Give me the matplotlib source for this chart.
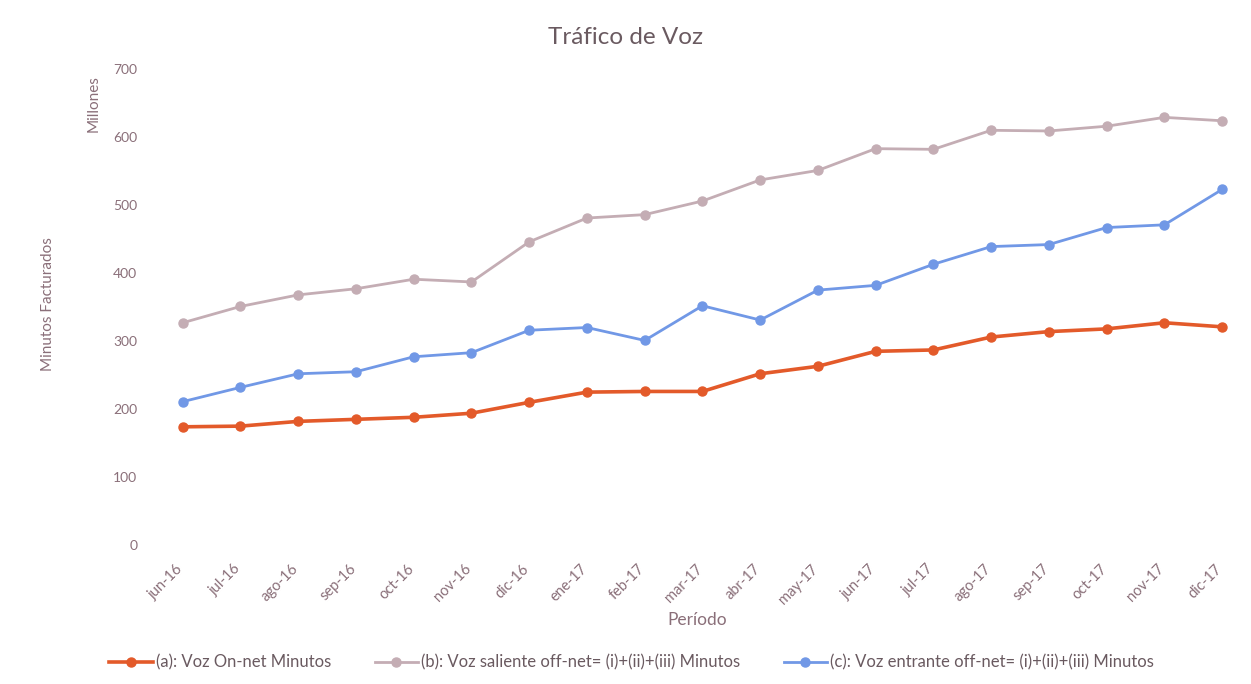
import matplotlib
matplotlib.use("Agg")
import matplotlib.pyplot as plt
import matplotlib.transforms as mtransforms

periods = ["jun-16", "jul-16", "ago-16", "sep-16", "oct-16", "nov-16", "dic-16",
           "ene-17", "feb-17", "mar-17", "abr-17", "may-17", "jun-17", "jul-17",
           "ago-17", "sep-17", "oct-17", "nov-17", "dic-17"]
voz_on_net = [174, 175, 182, 185, 188, 194, 210, 225, 226, 226, 252, 263,
              285, 287, 306, 314, 318, 327, 321]
voz_saliente = [327, 351, 368, 377, 391, 387, 446, 481, 486, 506, 537, 551,
                583, 582, 610, 609, 616, 629, 624]
voz_entrante = [211, 232, 252, 255, 277, 283, 316, 320, 301, 352, 331, 375,
                382, 413, 439, 442, 467, 471, 523]
series_labels = ["(a): Voz On-net Minutos",
                 "(b): Voz saliente off-net= (i)+(ii)+(iii) Minutos",
                 "(c): Voz entrante off-net= (i)+(ii)+(iii) Minutos"]
yticks = [0, 100, 200, 300, 400, 500, 600, 700]

plt.rcParams['font.family'] = ['Lato', 'DejaVu Sans']
txt = '#8a6f79'

fig = plt.figure(figsize=(12.51, 6.84), dpi=100)
ax = fig.add_axes([0.123, 0.203, 0.877, 0.696])

x = list(range(len(periods)))
colors = ['#e35a2a', '#c4adb4', '#7198e6']
for vals, c, lab in zip([voz_on_net, voz_saliente, voz_entrante], colors, series_labels):
    lw = 2.6 if c == '#e35a2a' else 2.0
    ax.plot(x, vals, color=c, lw=lw, marker='o', ms=6.5, label=lab)

ax.set_xlim(-0.5, len(periods) - 0.5)
ax.set_ylim(0, 700)
ax.set_yticks(yticks)
ax.set_yticklabels([str(v) for v in yticks], color=txt, fontsize=10)
ax.set_xticks(x)
ax.set_xticklabels(periods, rotation=45, ha='right', rotation_mode='anchor',
                   color=txt, fontsize=10.5)
ax.tick_params(length=0, pad=12)
offset = mtransforms.ScaledTranslation(-7 / 100, 0, fig.dpi_scale_trans)
for lbl in ax.get_xticklabels():
    lbl.set_transform(lbl.get_transform() + offset)
for s in ax.spines.values():
    s.set_visible(False)

fig.text(0.5, 0.945, "Tráfico de Voz", ha='center', va='center', fontsize=17.5, color='#6a5a60')
fig.text(0.038, 0.556, "Minutos Facturados", rotation=90, ha='center', va='center',
         fontsize=11, color=txt)
fig.text(0.075, 0.849, "Millones", rotation=90, ha='center', va='center',
         fontsize=11, color=txt)
fig.text(0.557, 0.093, "Período", ha='center', va='center', fontsize=12.5, color=txt)

leg = fig.legend(loc='center', bbox_to_anchor=(0.505, 0.031), ncol=3, frameon=False,
                 fontsize=12, handlelength=2.6, columnspacing=2.6, handletextpad=0.2)
for t in leg.get_texts():
    t.set_color('#6a5a60')

fig.savefig("out.png", dpi=100)
